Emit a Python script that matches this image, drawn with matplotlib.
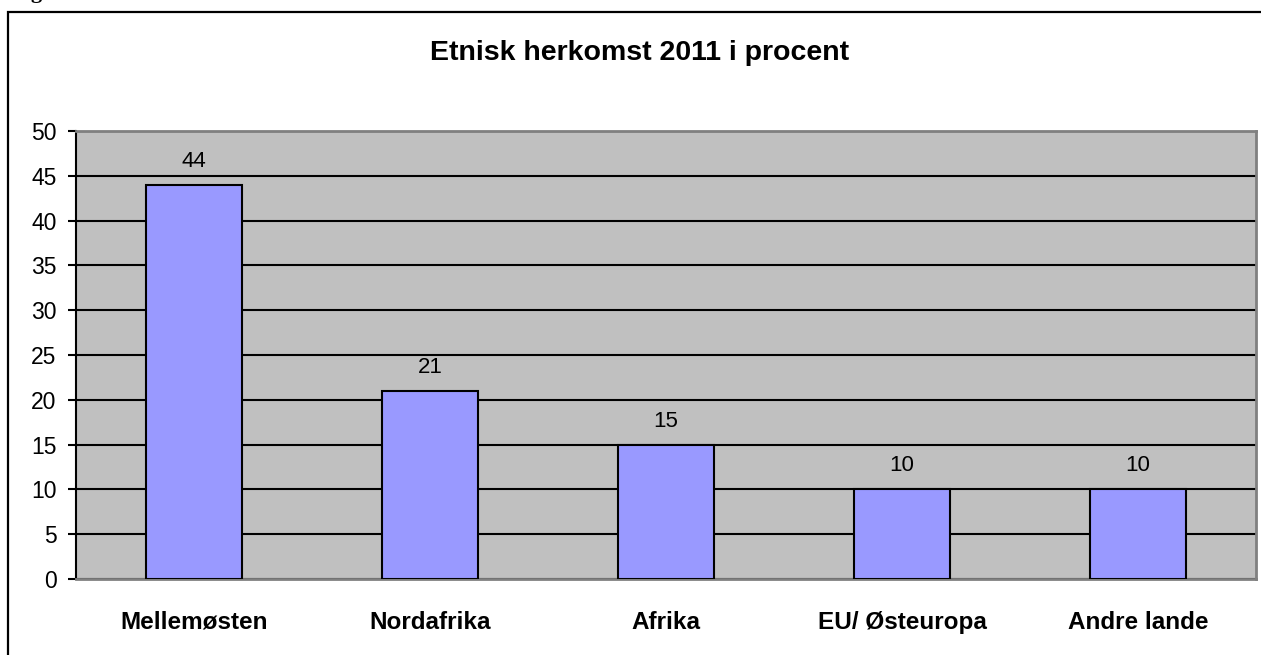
import numpy as np
import matplotlib.pyplot as plt
from matplotlib.patches import Rectangle

plt.rcParams['font.family'] = ['Liberation Sans', 'DejaVu Sans']

####### Data #######
categories = ["Mellemøsten", "Nordafrika", "Afrika", "EU/ Østeuropa", "Andre lande"]
values = [44, 21, 15, 10, 10]
title = "Etnisk herkomst 2011 i procent"

W, H = 1261, 655
fig = plt.figure(figsize=(W / 100, H / 100), dpi=100)

# outer frame (cut off at right and bottom)
fig.patches.append(Rectangle((8 / W, -0.05), 1.2, 1 - 12 / H + 0.05,
                             transform=fig.transFigure, fill=False,
                             edgecolor="black", linewidth=1.6))
# remains of a caption above the frame
fig.text(12 / W, 1 + 2 / H, "Fig", fontsize=16, family="Liberation Serif",
         fontweight="bold", va="baseline", ha="left")

fig.text(640 / W, 1 - 53 / H, title, fontsize=20.5, fontweight="bold",
         ha="center", va="center")

ax = fig.add_axes([76 / W, (H - 579) / H, (1256 - 76) / W, (579 - 131) / H])
ax.set_facecolor("#C0C0C0")

x = np.arange(len(categories))
bars = ax.bar(x, values, width=0.41, color="#9999FF", edgecolor="black",
              linewidth=1.5, zorder=3)
for xi, v in zip(x, values):
    ax.annotate(str(v), (xi, v), xytext=(0, 13), textcoords="offset points",
                ha="center", va="baseline", fontsize=16)

ax.set_xlim(-0.5, len(categories) - 0.5)
ax.set_ylim(0, 50)
ax.set_yticks(np.arange(0, 51, 5))
ax.yaxis.grid(True, color="black", linewidth=1.5, zorder=1)
ax.set_axisbelow(True)
ax.set_xticks(x)
ax.set_xticklabels(categories, fontsize=17.5, fontweight="bold")
ax.tick_params(axis="x", length=0, pad=23)
ax.tick_params(axis="y", length=6, width=1.5, pad=8, labelsize=16.5,
               direction="out")

for side in ["top", "right", "bottom"]:
    ax.spines[side].set_color("#808080")
    ax.spines[side].set_linewidth(2)
ax.spines["left"].set_color("black")
ax.spines["left"].set_linewidth(1.5)

fig.savefig("out.png", dpi=100)
